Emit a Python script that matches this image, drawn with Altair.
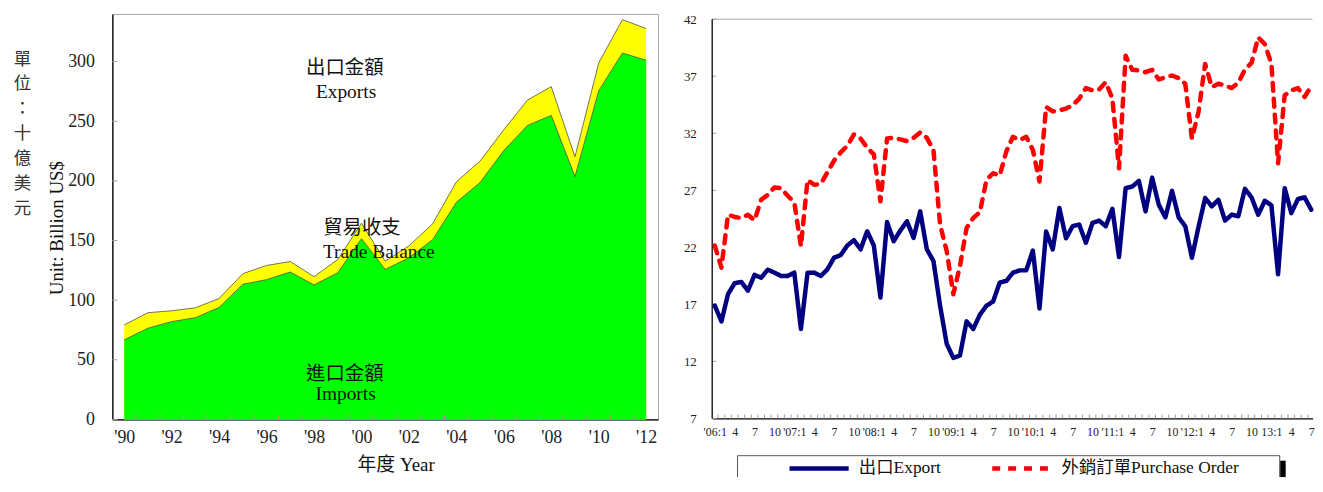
import json
import altair as alt
import pandas as pd

SERIF = "'Liberation Serif', 'Noto Sans CJK TC', serif"

# ---------------- Left panel data (annual, billion US$) ----------------
years = list(range(1990, 2013))
imports = [66.7, 76.5, 82.0, 85.3, 93.9, 113.3, 117.2, 123.6, 112.8, 123.0, 151.5, 125.8,
           135.5, 150.7, 182.0, 198.6, 225.5, 246.5, 254.9, 203.6, 275.6, 307.2, 301.1]
exports = [79.2, 89.5, 91.1, 93.6, 101.4, 122.2, 129.1, 132.4, 119.7, 134.1, 164.5, 132.7,
           145.5, 164.0, 199.2, 216.6, 242.9, 267.8, 279.0, 220.2, 298.9, 335.2, 327.7]
year_tick_values = [1990, 1992, 1994, 1996, 1998, 2000, 2002, 2004, 2006, 2008, 2010, 2012]
year_tick_labels = ["'90", "'92", "'94", "'96", "'98", "'00", "'02", "'04", "'06", "'08", "'10", "'12"]
left_y_ticks = [0, 50, 100, 150, 200, 250, 300]
ann_text = ["出口金額", "Exports", "貿易收支", "Trade Balance", "進口金額", "Imports"]
ann_x = [1999.30, 1999.35, 2000.02, 2000.73, 1999.30, 1999.33]
ann_y = [295.0, 274.2, 160.4, 140.4, 38.2, 21.6]

# ---------------- Right panel data (monthly, 2006:1 - 2013:7) ----------------
months = list(range(91))
export_vals = [16.9, 15.5, 17.9, 18.85, 18.97, 18.2, 19.58, 19.34, 20.04, 19.78, 19.49, 19.49,
               19.78, 14.84, 19.78, 19.78, 19.49, 20.07, 21.09, 21.32, 22.16, 22.63, 21.82, 23.41,
               22.16, 17.6, 24.22, 22.54, 23.47, 24.28, 22.83, 25.15, 21.82, 20.8, 16.88, 13.53,
               12.31, 12.52, 15.51, 14.84, 16.09, 16.88, 17.25, 18.91, 19.05, 19.78, 19.98, 19.98,
               21.72, 16.64, 23.38, 21.82, 25.44, 22.8, 23.85, 23.99, 22.4, 24.14, 24.34, 23.85,
               25.38, 21.15, 27.19, 27.33, 27.82, 25.15, 28.11, 25.73, 24.63, 26.95, 24.63, 23.85,
               21.09, 23.8, 26.32, 25.59, 26.17, 24.34, 24.86, 24.72, 27.13, 26.38, 24.86, 26.08,
               25.68, 19.64, 27.19, 25.0, 26.23, 26.38, 25.3]
order_vals = [22.16, 20.22, 24.86, 24.66, 24.57, 24.86, 24.37, 26.17, 26.6, 27.25, 27.19, 26.52,
              25.94, 22.1, 27.91, 27.48, 27.56, 28.58, 29.6, 30.32, 30.9, 31.89, 31.54, 30.73,
              30.15, 26.03, 31.54, 31.6, 31.46, 31.31, 31.6, 32.07, 31.6, 30.53, 23.99, 21.67,
              17.89, 20.36, 23.7, 24.57, 25.07, 27.91, 28.49, 28.3, 30.4, 31.69, 31.4, 31.69,
              30.53, 27.77, 34.3, 33.92, 34.01, 34.16, 34.45, 35.03, 35.96, 35.76, 35.84, 36.48,
              35.03, 28.93, 38.8, 37.56, 37.5, 37.35, 37.56, 36.71, 36.92, 37.06, 36.83, 36.34,
              31.54, 33.87, 38.08, 36.05, 36.34, 36.19, 35.96, 36.42, 37.58, 38.17, 40.4, 39.82,
              38.08, 29.36, 35.33, 35.76, 35.96, 35.18, 36.14]
month_tick_values = list(range(0, 91, 3))
month_tick_labels = ["'06:1", "4", "7", "10", "'07:1", "4", "7", "10", "'08:1", "4", "7", "10",
                     "'09:1", "4", "7", "10", "'10:1", "4", "7", "10", "'11:1", "4", "7", "10",
                     "'12:1", "4", "7", "10", "13:1", "4", "7"]
right_y_ticks = [7, 12, 17, 22, 27, 32, 37, 42]
series_names = ["出口Export", "外銷訂單Purchase Order"]
series_colors = ["#000080", "#FF0000"]

assert len(export_vals) == 91 and len(order_vals) == 91

one = pd.DataFrame({"d": [0]})

# ======================= LEFT PANEL =======================
LW, LH = 549, 408
df_left = pd.DataFrame({"year": years, "imports": imports, "exports": exports})
df_ann = pd.DataFrame({"year": ann_x, "v": ann_y, "t": ann_text})
df_xt = pd.DataFrame({"year": [y + 0.5 for y in years[:-1]]})
df_yt = pd.DataFrame({"v": left_y_ticks})

xL_scale = alt.Scale(domain=[1989.5, 2012.5], nice=False, zero=False)
yL_scale = alt.Scale(domain=[0, 340], nice=False)
xL_axis = alt.Axis(values=year_tick_values,
                   labelExpr=json.dumps(year_tick_labels, ensure_ascii=False) + "[round((datum.value-1990)/2)]",
                   title="年度 Year", titleX=285, titleY=45, titleAlign="center", titleBaseline="middle",
                   titleFontSize=19, titleFontWeight="normal", labelFontSize=18, labelPadding=9,
                   ticks=False, tickSize=0, grid=False, labelFlush=False, labelOverlap=False,
                   domainColor="#000000", domainWidth=1.3)
yL_axis = alt.Axis(values=left_y_ticks, title="Unit: Billion US$", titleX=-56, titleY=215,
                   titleAngle=270, titleAlign="center", titleBaseline="middle",
                   titleFontSize=19, titleFontWeight="normal", labelFontSize=18, labelPadding=18,
                   ticks=False, tickSize=0, grid=False, labelFlush=False,
                   domainColor="#000000", domainWidth=1.3)


def xl(field):
    return alt.X(field, type="quantitative", scale=xL_scale, axis=xL_axis)


def yl(field):
    return alt.Y(field, type="quantitative", scale=yL_scale, axis=yL_axis)


area_exp = alt.Chart(df_left).mark_area(
    color="#FFFF00", opacity=1, line={"color": "#505050", "strokeWidth": 0.8}
).encode(x=xl("year"), y=yl("exports"))
area_imp = alt.Chart(df_left).mark_area(
    color="#00FF00", opacity=1, line={"color": "#505050", "strokeWidth": 0.8}
).encode(x=xl("year"), y=yl("imports"))
xticks_L = alt.Chart(df_xt).mark_rule(color="#a0a0a0", strokeWidth=1).encode(
    x=xl("year"), y=alt.value(LH), y2=alt.value(LH - 5))
yticks_L = alt.Chart(df_yt).mark_rule(color="#a0a0a0", strokeWidth=1).encode(
    y=yl("v"), x=alt.value(0), x2=alt.value(5))
ann = alt.Chart(df_ann).mark_text(font=SERIF, fontSize=19.5, color="#111111",
                                  align="center", baseline="middle").encode(
    x=xl("year"), y=yl("v"), text="t:N")
unit_cjk = alt.Chart(one).mark_text(font=SERIF, fontSize=17.5, color="#333333", align="center",
                                    baseline="top", lineBreak="\n", lineHeight=25).encode(
    x=alt.value(-90.5), y=alt.value(37), text=alt.value("單\n位\n：\n十\n億\n美\n元"))

left = alt.layer(area_exp, area_imp, xticks_L, yticks_L, ann, unit_cjk).properties(
    width=LW, height=LH, view=alt.ViewBackground(stroke="#a6a6a6", strokeWidth=1))

# ======================= RIGHT PANEL =======================
# plot group shares its top with the left panel; the value axis starts a little lower
RW, RH = 604, 407
df_right = pd.DataFrame({
    "month": months * 2,
    "value": export_vals + order_vals,
    "series": [series_names[0]] * 91 + [series_names[1]] * 91,
})
df_mt = pd.DataFrame({"month": [m + 0.5 for m in months[:-1]]})
df_rt = pd.DataFrame({"value": right_y_ticks})
df_top = pd.DataFrame({"value": [max(right_y_ticks)]})
df_ax = pd.DataFrame({"value": [min(right_y_ticks)], "value2": [max(right_y_ticks)]})

xR_scale = alt.Scale(domain=[-0.39, 90.2], nice=False, zero=False)
yR_scale = alt.Scale(domain=[7, 42.462], nice=False, zero=False)
xR_axis = alt.Axis(values=month_tick_values,
                   labelExpr=json.dumps(month_tick_labels, ensure_ascii=False) + "[round(datum.value/3)]",
                   title=None, labelFontSize=12, labelPadding=8, ticks=False, tickSize=0, grid=False,
                   labelFlush=False, labelOverlap=False, domainColor="#000000", domainWidth=1.3)
yR_axis = alt.Axis(values=right_y_ticks, title=None, labelFontSize=13, labelPadding=16,
                   ticks=False, tickSize=0, grid=False, labelFlush=False, domain=False)


def xr(field):
    return alt.X(field, type="quantitative", scale=xR_scale, axis=xR_axis)


def yr(field):
    return alt.Y(field, type="quantitative", scale=yR_scale, axis=yR_axis)


leg = alt.Legend(orient="none", legendX=77.8, legendY=448.3, direction="horizontal", title=None,
                 symbolType="M-4.58,0H4.58", symbolSize=169, symbolStrokeWidth=4.5,
                 symbolOffset=20.75, labelOffset=31,
                 labelFont=SERIF, labelFontSize=17.5, labelColor="#111111",
                 columnPadding=41, padding=0, labelLimit=400)

lines = alt.Chart(df_right).mark_line(strokeWidth=4.5, strokeCap="round", strokeJoin="round").encode(
    x=xr("month"), y=yr("value"),
    color=alt.Color("series:N", scale=alt.Scale(domain=series_names, range=series_colors), legend=leg),
    strokeDash=alt.StrokeDash("series:N", scale=alt.Scale(domain=series_names, range=[[1, 0], [8, 8]]),
                              legend=leg),
)
xticks_R = alt.Chart(df_mt).mark_rule(color="#a0a0a0", strokeWidth=1).encode(
    x=xr("month"), y=alt.value(RH), y2=alt.value(RH - 4))
yticks_R = alt.Chart(df_rt).mark_rule(color="#a0a0a0", strokeWidth=1).encode(
    y=yr("value"), x=alt.value(0), x2=alt.value(4))
top_border = alt.Chart(df_top).mark_rule(color="#a6a6a6", strokeWidth=1).encode(
    y=yr("value"), x=alt.value(0), x2=alt.value(RW))
y_axis_line = alt.Chart(df_ax).mark_rule(color="#000000", strokeWidth=1.3).encode(
    y=yr("value"), y2="value2:Q", x=alt.value(0))
frame_top = alt.Chart(one).mark_rule(color="#555555", strokeWidth=1).encode(
    y=alt.value(444.5), x=alt.value(25.5), x2=alt.value(571))
frame_left = alt.Chart(one).mark_rule(color="#555555", strokeWidth=1).encode(
    x=alt.value(25.5), y=alt.value(444.5), y2=alt.value(466))
frame_right = alt.Chart(one).mark_rule(color="#555555", strokeWidth=1).encode(
    x=alt.value(571), y=alt.value(444.5), y2=alt.value(466))
shadow = alt.Chart(one).mark_rect(color="#000000").encode(
    x=alt.value(571.5), x2=alt.value(577), y=alt.value(449.5), y2=alt.value(466))

right = alt.layer(top_border, xticks_R, yticks_R, y_axis_line, lines,
                  frame_top, frame_left, frame_right, shadow).properties(
    width=RW, height=RH, view=alt.ViewBackground(stroke="transparent"))

chart = alt.hconcat(left, right, spacing=23.5).resolve_scale(
    color="independent", strokeDash="independent"
).properties(
    padding={"left": 5, "top": 2.5, "right": 0, "bottom": 0}
).configure_axis(
    labelFont=SERIF, titleFont=SERIF, labelColor="#222222", titleColor="#111111"
).configure_view(strokeWidth=1)

chart.save("out.html", embed_options={"renderer": "svg", "actions": False})
